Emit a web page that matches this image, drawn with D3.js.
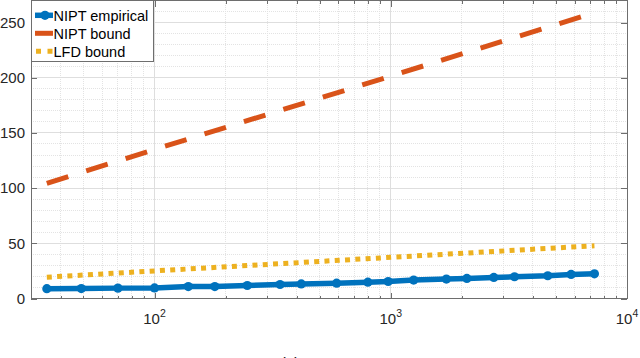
<!DOCTYPE html>
<html>
<head>
<meta charset="utf-8">
<script src="https://cdn.jsdelivr.net/npm/d3@7"></script>
<style>
  body { margin: 0; background: #fff; }
  svg { display: block; font-family: "Liberation Sans", Arial, sans-serif; }
</style>
</head>
<body>
<div id="chart"></div>
<script>
// values
var nValues = [35, 49, 70, 100, 139, 180, 247, 340, 418, 590, 800, 975, 1250, 1720, 2100, 2730, 3340, 4620, 5800, 7280];
var niptEmpirical = [8.9, 9.0, 9.4, 9.6, 10.8, 10.8, 11.8, 12.7, 13.2, 13.9, 14.8, 15.4, 16.7, 17.6, 18.2, 19.1, 19.7, 20.6, 21.8, 22.4];
var boundN = [35, 100, 1000, 7280];
var niptBound = [104.4, 135, 201.5, 259];
var lfdBound = [19.3, 25, 37.3, 47.8];
var yTicks = [0, 50, 100, 150, 200, 250];
var xTicks = [100, 1000, 10000];
var legendLabels = ["NIPT empirical", "NIPT bound", "LFD bound"];

var W = 640, H = 358;
var margin = { top: 0.5, left: 31, right: 13, bottom: 59.5 };
var width = W - margin.left - margin.right;
var height = H - margin.top - margin.bottom;

var svg = d3.select("#chart").append("svg")
    .attr("width", W)
    .attr("height", H);

var g = svg.append("g")
    .attr("transform", "translate(" + margin.left + "," + margin.top + ")");

var xScale = d3.scaleLog().domain([30, 10000]).range([0, width]);
var yScale = d3.scaleLinear().domain([0, 270]).range([height, 0]);

// minor values
var xMinor = [];
[10, 100, 1000].forEach(function (d) {
    for (var k = 2; k <= 9; k++) {
        var v = d * k;
        if (v >= 30 && v < 10000) xMinor.push(v);
    }
});
var yMinor = d3.range(10, 270, 10).filter(function (v) { return v % 50 !== 0; });

// grid
var grid = g.append("g").attr("class", "grid").attr("shape-rendering", "crispEdges");
grid.selectAll(".xmin").data(xMinor).enter().append("line")
    .attr("x1", function (d) { return xScale(d); }).attr("x2", function (d) { return xScale(d); })
    .attr("y1", 0).attr("y2", height)
    .attr("stroke", "#e3e3e3").attr("stroke-dasharray", "1,1");
grid.selectAll(".ymin").data(yMinor).enter().append("line")
    .attr("x1", 0).attr("x2", width)
    .attr("y1", function (d) { return yScale(d); }).attr("y2", function (d) { return yScale(d); })
    .attr("stroke", "#e3e3e3").attr("stroke-dasharray", "1,1");
grid.selectAll(".xmaj").data(xTicks.slice(0, 2)).enter().append("line")
    .attr("x1", function (d) { return xScale(d); }).attr("x2", function (d) { return xScale(d); })
    .attr("y1", 0).attr("y2", height)
    .attr("stroke", "#dedede");
grid.selectAll(".ymaj").data(yTicks.slice(1)).enter().append("line")
    .attr("x1", 0).attr("x2", width)
    .attr("y1", function (d) { return yScale(d); }).attr("y2", function (d) { return yScale(d); })
    .attr("stroke", "#dedede");

// lines
var lineGen = function (xs) {
    return d3.line()
        .x(function (d, i) { return xScale(xs[i]); })
        .y(function (d) { return yScale(d); });
};

g.append("path")
    .datum(niptBound)
    .attr("d", lineGen(boundN))
    .attr("fill", "none")
    .attr("stroke", "#D95319")
    .attr("stroke-width", 5)
    .attr("stroke-dasharray", "22.5,18.8");

g.append("path")
    .datum(lfdBound)
    .attr("d", lineGen(boundN))
    .attr("fill", "none")
    .attr("stroke", "#EDB120")
    .attr("stroke-width", 5)
    .attr("stroke-dasharray", "5,5.3");

g.append("path")
    .datum(niptEmpirical)
    .attr("d", lineGen(nValues))
    .attr("fill", "none")
    .attr("stroke", "#0072BD")
    .attr("stroke-width", 5.5)
    .attr("stroke-linejoin", "round");

g.selectAll(".dot").data(niptEmpirical).enter().append("circle")
    .attr("cx", function (d, i) { return xScale(nValues[i]); })
    .attr("cy", function (d) { return yScale(d); })
    .attr("r", 4.6)
    .attr("fill", "#0072BD");

// axes (ticks pointing inward, box on)
var axisColor = "#262626";
var yAxis = g.append("g")
    .call(d3.axisLeft(yScale).tickValues(yTicks).tickSize(-6).tickPadding(6));
var yAxisR = g.append("g").attr("transform", "translate(" + width + ",0)")
    .call(d3.axisRight(yScale).tickValues(yTicks).tickSize(-6).tickFormat(""));
var xAxis = g.append("g").attr("transform", "translate(0," + height + ")")
    .call(d3.axisBottom(xScale).tickValues(xTicks).tickSize(-6).tickFormat(""));
var xAxisT = g.append("g")
    .call(d3.axisTop(xScale).tickValues(xTicks).tickSize(-6).tickFormat(""));
var xMinB = g.append("g").attr("transform", "translate(0," + height + ")")
    .call(d3.axisBottom(xScale).tickValues(xMinor).tickSize(-3).tickFormat(""));
var xMinT = g.append("g")
    .call(d3.axisTop(xScale).tickValues(xMinor).tickSize(-3).tickFormat(""));

[yAxis, yAxisR, xAxis, xAxisT, xMinB, xMinT].forEach(function (a) {
    a.attr("shape-rendering", "crispEdges");
    a.selectAll(".domain").attr("stroke", "#6e6e6e").attr("d", null);
    a.selectAll(".tick line").attr("stroke", "#6e6e6e");
});
yAxis.selectAll(".tick text")
    .attr("fill", axisColor)
    .style("font-size", "15px")
    .attr("x", -6);

// plot box
g.append("rect")
    .attr("x", 0).attr("y", 0)
    .attr("width", width).attr("height", height)
    .attr("fill", "none")
    .attr("stroke", "#6e6e6e")
    .attr("shape-rendering", "crispEdges");

// x tick labels 10^k
var xl = g.selectAll(".xlab").data(xTicks).enter().append("text")
    .attr("x", function (d) { return xScale(d); })
    .attr("y", height + 25.5)
    .attr("text-anchor", "middle")
    .attr("fill", axisColor)
    .style("font-size", "15px");
xl.append("tspan").text("10");
xl.append("tspan")
    .attr("dy", -7)
    .style("font-size", "10.5px")
    .text(function (d) { return Math.round(Math.log10(d)); });

// legend
var leg = g.append("g");
leg.append("rect")
    .attr("x", 0.5).attr("y", 0)
    .attr("width", 121.5).attr("height", 60.5)
    .attr("fill", "#fff")
    .attr("stroke", "#6e6e6e")
    .attr("shape-rendering", "crispEdges");
var rows = [14.8, 32.8, 50.8];
leg.append("line").attr("x1", 4).attr("x2", 22).attr("y1", rows[0]).attr("y2", rows[0])
    .attr("stroke", "#0072BD").attr("stroke-width", 5.5);
leg.append("circle").attr("cx", 14).attr("cy", rows[0]).attr("r", 4.6).attr("fill", "#0072BD");
leg.append("line").attr("x1", 4).attr("x2", 22).attr("y1", rows[1]).attr("y2", rows[1])
    .attr("stroke", "#D95319").attr("stroke-width", 5);
leg.append("line").attr("x1", 5).attr("x2", 22).attr("y1", rows[2]).attr("y2", rows[2])
    .attr("stroke", "#EDB120").attr("stroke-width", 5).attr("stroke-dasharray", "5,6.5");
leg.selectAll(".ltxt").data(legendLabels).enter().append("text")
    .attr("x", 22.5)
    .attr("y", function (d, i) { return rows[i] + 5.2; })
    .attr("fill", "#000")
    .style("font-size", "14.5px")
    .text(function (d) { return d; });

// caption, mostly cut off at the bottom
svg.append("text")
    .attr("x", 290).attr("y", 368)
    .attr("text-anchor", "middle")
    .attr("fill", "#000")
    .style("font-size", "15px")
    .text("(a)");
</script>
</body>
</html>
